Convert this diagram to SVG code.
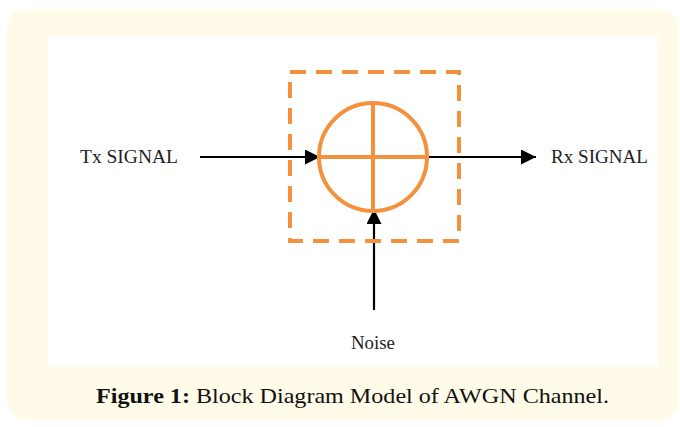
<svg xmlns="http://www.w3.org/2000/svg" width="680" height="427" viewBox="0 0 680 427">
  <style>
    .lbl { font-family: "Liberation Serif", "Times New Roman", serif; font-size: 18px; fill: #222; }
    .cap { font-family: "Liberation Serif", "DejaVu Serif", serif; font-size: 22px; fill: #111; }
    .wire { stroke: #000; stroke-width: 2.2; fill: none; }
    .orange { stroke: #F4913C; stroke-width: 4; fill: none; }
  </style>
  <defs>
    <marker id="arrowBig" viewBox="0 0 10 10" refX="10" refY="5" markerWidth="17" markerHeight="15" orient="auto" markerUnits="userSpaceOnUse">
      <path d="M0,0 L10,5 L0,10 Z" fill="#000"/>
    </marker>
  </defs>

  <!-- card background -->
  <rect x="0" y="0" width="680" height="427" fill="#ffffff"/>
  <rect x="7" y="9" width="672" height="411" rx="20" fill="#FFFBE8"/>
  <rect x="48" y="36" width="610" height="330" fill="#ffffff"/>

  <!-- connectors -->
  <g id="connectors">
    <line class="wire" x1="200" y1="157" x2="320" y2="157" marker-end="url(#arrowBig)"/>
    <line class="wire" x1="428" y1="157" x2="536" y2="157" marker-end="url(#arrowBig)"/>
    <line class="wire" x1="374" y1="310" x2="374" y2="209" marker-end="url(#arrowBig)"/>
  </g>

  <!-- channel block -->
  <g id="channel">
    <rect class="orange" x="290" y="72" width="169" height="169" stroke-dasharray="16 10"/>
  </g>

  <!-- summing junction -->
  <g id="adder">
    <circle class="orange" cx="373" cy="157" r="54"/>
    <line class="orange" x1="319" y1="157" x2="427" y2="157"/>
    <line class="orange" x1="373" y1="103" x2="373" y2="211"/>
  </g>

  <g id="tx"><text class="lbl" x="80" y="163" textLength="98" lengthAdjust="spacingAndGlyphs">Tx SIGNAL</text></g>
  <g id="rx"><text class="lbl" x="551" y="163" textLength="97" lengthAdjust="spacingAndGlyphs">Rx SIGNAL</text></g>
  <g id="noise"><text class="lbl" x="351" y="349" textLength="44" lengthAdjust="spacingAndGlyphs">Noise</text></g>

  <g id="caption">
    <text class="cap" x="96" y="403" textLength="513" lengthAdjust="spacingAndGlyphs"><tspan font-weight="bold">Figure 1:</tspan> Block Diagram Model of AWGN Channel.</text>
  </g>
</svg>
